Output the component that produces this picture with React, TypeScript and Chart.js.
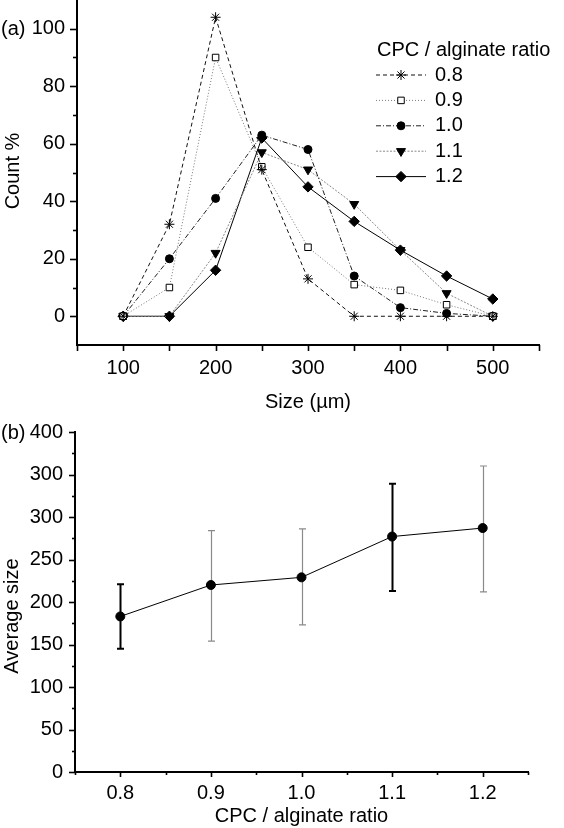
import React, { useEffect, useRef } from 'react';
import { Chart, registerables } from 'chart.js';

Chart.register(...registerables);

const FONT = '"Liberation Sans", Arial, Helvetica, sans-serif';
Chart.defaults.font.family = FONT;
Chart.defaults.color = '#000';

// ---------- Panel (a) data ----------
const sizes = [100, 150, 200, 250, 300, 350, 400, 450, 500];
const ratioLabels = ['0.8', '0.9', '1.0', '1.1', '1.2'];
const count08 = [0, 32, 104, 51, 13, 0, 0, 0, 0];
const count09 = [0, 10, 90, 52, 24, 11, 9, 4, 0];
const count10 = [0, 20, 41, 63, 58, 14, 3, 1, 0];
const count11 = [0, 0, 22, 57, 51, 39, 23, 8, 0];
const count12 = [0, 0, 16, 62, 45, 33, 23, 14, 6];
const sizeTickValues = [100, 200, 300, 400, 500];
const sizeTickLabels = ['100', '200', '300', '400', '500'];
const sizeMinorTicks = [50, 150, 250, 350, 450, 550];
const countTickValues = [0, 20, 40, 60, 80, 100];
const countTickLabels = ['0', '20', '40', '60', '80', '100'];
const countMinorTicks = [10, 30, 50, 70, 90];
const panelA = '(a)';
const titleA_x = 'Size (\u00b5m)';
const titleA_y = 'Count %';
const legendTitle = 'CPC / alginate ratio';

// ---------- Panel (b) data ----------
const ratios = [0.8, 0.9, 1.0, 1.1, 1.2];
const avgSize = [183, 220, 229, 277, 287];
const avgUpper = [221, 284, 286, 339, 360];
const avgLower = [145, 154, 173, 213, 212];
const ratioTickValues = [0.8, 0.9, 1.0, 1.1, 1.2];
const ratioTickLabels = ['0.8', '0.9', '1.0', '1.1', '1.2'];
const ratioMinorTicks = [0.75, 0.85, 0.95, 1.05, 1.15, 1.25];
const avgTickValues = [0, 50, 100, 150, 200, 250, 300, 350, 400];
const avgTickLabels = ['0', '50', '100', '150', '200', '250', '300', '300', '400'];
const avgMinorTicks = [25, 75, 125, 175, 225, 275, 325, 375];
const panelB = '(b)';
const titleB_x = 'CPC / alginate ratio';
const titleB_y = 'Average size';

const topSeries = [count08, count09, count10, count11, count12];

// styles (kept apart from data)
const topStyles = [
  { line: '#111', dash: [4, 3], point: 'star', rot: 0, r: 5, fill: '#000' },
  { line: '#777', dash: [1, 2], point: 'rect', rot: 0, r: 4.6, fill: '#fff' },
  { line: '#222', dash: [5, 2, 1, 2], point: 'circle', rot: 0, r: 4, fill: '#000' },
  { line: '#888', dash: [2, 1.5], point: 'triangle', rot: 180, r: 5.2, fill: '#000' },
  { line: '#000', dash: [], point: 'rectRot', rot: 0, r: 5.2, fill: '#000' },
];
const errStyles = [
  { color: '#000', width: 2 },
  { color: '#8a8a8a', width: 1.2 },
  { color: '#8a8a8a', width: 1.2 },
  { color: '#000', width: 2 },
  { color: '#8a8a8a', width: 1.2 },
];

function drawMarker(ctx: CanvasRenderingContext2D, style: string, x: number, y: number, r: number, fill: string) {
  ctx.save();
  ctx.beginPath();
  ctx.lineWidth = 1;
  ctx.setLineDash([]);
  ctx.strokeStyle = '#000';
  ctx.fillStyle = fill;
  if (style === 'star') {
    for (let k = 0; k < 4; k++) {
      const a = (k * Math.PI) / 4;
      ctx.moveTo(x - Math.cos(a) * r, y - Math.sin(a) * r);
      ctx.lineTo(x + Math.cos(a) * r, y + Math.sin(a) * r);
    }
    ctx.stroke();
  } else if (style === 'rect') {
    const s = r * Math.SQRT1_2;
    ctx.rect(x - s, y - s, 2 * s, 2 * s);
    ctx.fill();
    ctx.stroke();
  } else if (style === 'circle') {
    ctx.arc(x, y, r, 0, Math.PI * 2);
    ctx.fill();
    ctx.stroke();
  } else if (style === 'triangle') {
    const h = r * Math.sin(Math.PI / 3);
    ctx.moveTo(x - h, y - r / 2);
    ctx.lineTo(x + h, y - r / 2);
    ctx.lineTo(x, y + r);
    ctx.closePath();
    ctx.fill();
    ctx.stroke();
  } else {
    ctx.moveTo(x - r, y);
    ctx.lineTo(x, y - r);
    ctx.lineTo(x + r, y);
    ctx.lineTo(x, y + r);
    ctx.closePath();
    ctx.fill();
    ctx.stroke();
  }
  ctx.restore();
}

function ticksPlugin(cfg: { xMajor: number[]; xMinor: number[]; xMajLen: number; xMinLen: number; yMajor: number[]; yMinor: number[]; yMajLen: number; yMinLen: number }) {
  return {
    id: 'axisTicks',
    afterDraw(chart: any) {
      const { ctx, chartArea } = chart;
      const xs = chart.scales.x;
      const ys = chart.scales.y;
      ctx.save();
      ctx.strokeStyle = '#000';
      ctx.lineWidth = 1.6;
      ctx.setLineDash([]);
      const dx = (vals: number[], len: number) =>
        vals.forEach((v) => {
          const px = Math.round(xs.getPixelForValue(v)) + 0.5;
          ctx.beginPath();
          ctx.moveTo(px, chartArea.bottom);
          ctx.lineTo(px, chartArea.bottom + len);
          ctx.stroke();
        });
      const dy = (vals: number[], len: number) =>
        vals.forEach((v) => {
          const py = Math.round(ys.getPixelForValue(v)) + 0.5;
          ctx.beginPath();
          ctx.moveTo(chartArea.left, py);
          ctx.lineTo(chartArea.left - len, py);
          ctx.stroke();
        });
      dx(cfg.xMajor, cfg.xMajLen);
      dx(cfg.xMinor, cfg.xMinLen);
      dy(cfg.yMajor, cfg.yMajLen);
      dy(cfg.yMinor, cfg.yMinLen);
      ctx.restore();
    },
  };
}

const textPluginTop = {
  id: 'textTop',
  afterDraw(chart: any) {
    const ctx = chart.ctx as CanvasRenderingContext2D;
    ctx.save();
    ctx.fillStyle = '#000';
    ctx.font = `20px ${FONT}`;
    ctx.textBaseline = 'middle';
    ctx.textAlign = 'left';
    ctx.fillText(panelA, 1, 29);
    // y title
    ctx.save();
    ctx.translate(13, 171);
    ctx.rotate(-Math.PI / 2);
    ctx.textAlign = 'center';
    ctx.fillText(titleA_y, 0, 0);
    ctx.restore();
    // legend
    ctx.textAlign = 'left';
    ctx.fillText(legendTitle, 377, 50);
    chart.data.datasets.forEach((ds: any, i: number) => {
      const st = topStyles[i];
      const y = 75 + i * 25.4;
      ctx.save();
      ctx.strokeStyle = st.line;
      ctx.lineWidth = 1;
      ctx.setLineDash(st.dash);
      ctx.beginPath();
      ctx.moveTo(376, y);
      ctx.lineTo(426, y);
      ctx.stroke();
      ctx.restore();
      drawMarker(ctx, st.point, 401, y, st.r, st.fill);
      ctx.fillText(ds.label, 435, y);
    });
    ctx.restore();
  },
};

const textPluginBottom = {
  id: 'textBottom',
  afterDraw(chart: any) {
    const ctx = chart.ctx as CanvasRenderingContext2D;
    ctx.save();
    ctx.fillStyle = '#000';
    ctx.font = `20px ${FONT}`;
    ctx.textBaseline = 'middle';
    ctx.textAlign = 'left';
    ctx.fillText(panelB, 1, 13);
    ctx.translate(12, 196);
    ctx.rotate(-Math.PI / 2);
    ctx.textAlign = 'center';
    ctx.fillText(titleB_y, 0, 0);
    ctx.restore();
  },
};

const errorBarPlugin = {
  id: 'errorBars',
  beforeDatasetsDraw(chart: any) {
    const ctx = chart.ctx as CanvasRenderingContext2D;
    const xs = chart.scales.x;
    const ys = chart.scales.y;
    ctx.save();
    ratios.forEach((r, i) => {
      const x = Math.round(xs.getPixelForValue(r)) + 0.5;
      const yT = ys.getPixelForValue(avgUpper[i]);
      const yB = ys.getPixelForValue(avgLower[i]);
      const st = errStyles[i];
      ctx.strokeStyle = st.color;
      ctx.lineWidth = st.width;
      ctx.beginPath();
      ctx.moveTo(x, yT);
      ctx.lineTo(x, yB);
      ctx.moveTo(x - 3.5, yT);
      ctx.lineTo(x + 3.5, yT);
      ctx.moveTo(x - 3.5, yB);
      ctx.lineTo(x + 3.5, yB);
      ctx.stroke();
    });
    ctx.restore();
  },
};

function baseAxis(opts: any) {
  return {
    type: 'linear',
    min: opts.min,
    max: opts.max,
    border: { display: true, color: '#000', width: 2 },
    grid: { display: true, drawOnChartArea: false, drawTicks: true, tickLength: opts.tickLength, color: 'rgba(0,0,0,0)' },
    ticks: {
      autoSkip: false,
      maxRotation: 0,
      padding: opts.padding,
      color: '#000',
      font: { size: opts.fontSize, family: FONT },
      callback: (_v: any, i: number) => opts.labels[i],
    },
    afterBuildTicks: (s: any) => {
      s.ticks = opts.values.map((v: number) => ({ value: v }));
    },
    title: opts.title
      ? { display: true, text: opts.title, color: '#000', font: { size: 20, family: FONT }, padding: opts.titlePadding }
      : { display: false },
    afterFit: (s: any) => {
      if (opts.width !== undefined) s.width = opts.width;
      if (opts.height !== undefined) s.height = opts.height;
      s.paddingTop = 0;
      s.paddingBottom = 0;
      s.paddingLeft = 0;
      s.paddingRight = 0;
    },
  };
}

function makeTop(canvas: HTMLCanvasElement) {
  return new Chart(canvas, {
    type: 'line',
    data: {
      datasets: topSeries.map((vals, i) => ({
        label: ratioLabels[i],
        data: sizes.map((x, j) => ({ x, y: vals[j] })),
        borderColor: topStyles[i].line,
        borderWidth: 1,
        borderDash: topStyles[i].dash,
        pointStyle: topStyles[i].point,
        pointRotation: topStyles[i].rot,
        pointRadius: topStyles[i].r,
        pointBackgroundColor: topStyles[i].fill,
        pointBorderColor: '#000',
        pointBorderWidth: 1,
        fill: false,
        tension: 0,
      })),
    },
    options: {
      responsive: false,
      animation: false,
      devicePixelRatio: 1,
      events: [],
      layout: { autoPadding: false, padding: { left: 0, right: 25, top: 0, bottom: 0 } },
      plugins: { legend: { display: false }, tooltip: { enabled: false } },
      scales: {
        x: baseAxis({ min: 50, max: 550, values: sizeTickValues, labels: sizeTickLabels, tickLength: 6, padding: 5, fontSize: 20, title: titleA_x, titlePadding: { top: 0, bottom: 6 }, height: 75 }),
        y: baseAxis({ min: -10, max: 110, values: countTickValues, labels: countTickLabels, tickLength: 7, padding: 5, fontSize: 20, width: 77 }),
      },
    } as any,
    plugins: [
      ticksPlugin({ xMajor: sizeTickValues, xMinor: sizeMinorTicks, xMajLen: 6, xMinLen: 6, yMajor: countTickValues, yMinor: countMinorTicks, yMajLen: 7, yMinLen: 4 }),
      textPluginTop,
    ],
  } as any);
}

function makeBottom(canvas: HTMLCanvasElement) {
  return new Chart(canvas, {
    type: 'line',
    data: {
      datasets: [
        {
          label: titleB_y,
          data: ratios.map((x, j) => ({ x, y: avgSize[j] })),
          borderColor: '#000',
          borderWidth: 1,
          pointStyle: 'circle',
          pointRadius: 4.5,
          pointBackgroundColor: '#000',
          pointBorderColor: '#000',
          pointBorderWidth: 1,
          fill: false,
          tension: 0,
        },
      ],
    },
    options: {
      responsive: false,
      animation: false,
      devicePixelRatio: 1,
      events: [],
      layout: { autoPadding: false, padding: { left: 0, right: 36, top: 12, bottom: 0 } },
      plugins: { legend: { display: false }, tooltip: { enabled: false } },
      scales: {
        x: baseAxis({ min: 0.75, max: 1.25, values: ratioTickValues, labels: ratioTickLabels, tickLength: 5, padding: 4, fontSize: 20, title: titleB_x, titlePadding: { top: 0, bottom: 0 }, height: 56 }),
        y: baseAxis({ min: 0, max: 400, values: avgTickValues, labels: avgTickLabels, tickLength: 6, padding: 6, fontSize: 20, width: 75 }),
      },
    } as any,
    plugins: [
      ticksPlugin({ xMajor: ratioTickValues, xMinor: ratioMinorTicks, xMajLen: 5, xMinLen: 3, yMajor: avgTickValues, yMinor: avgMinorTicks, yMajLen: 6, yMinLen: 3 }),
      errorBarPlugin,
      textPluginBottom,
    ],
  } as any);
}

function ChartCanvas({ make, top, height }: { make: (c: HTMLCanvasElement) => Chart; top: number; height: number }) {
  const ref = useRef<HTMLCanvasElement>(null);
  useEffect(() => {
    const chart = make(ref.current as HTMLCanvasElement);
    return () => chart.destroy();
  }, [make]);
  return (
    <canvas
      ref={ref}
      width={564}
      height={height}
      style={{ position: 'absolute', left: 0, top, width: 564, height, display: 'block' }}
    />
  );
}

export default function App() {
  return (
    <div style={{ position: 'absolute', left: 0, top: 0, width: 564, height: 828, background: '#fff' }}>
      <ChartCanvas make={makeTop} top={0} height={420} />
      <ChartCanvas make={makeBottom} top={420} height={408} />
    </div>
  );
}
